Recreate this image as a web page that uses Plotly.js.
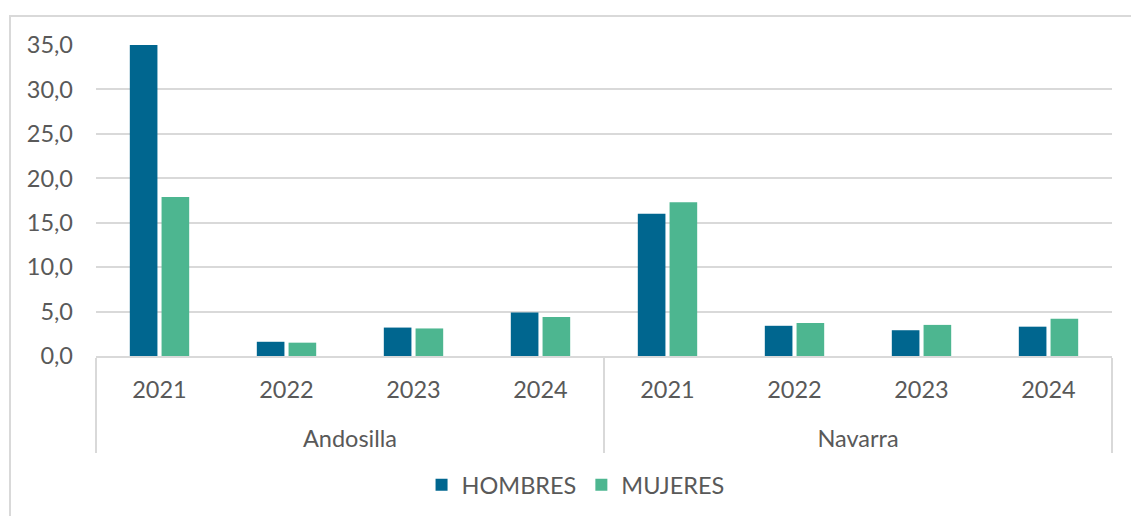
<!DOCTYPE html>
<html>
<head>
<meta charset="utf-8">
<script src="https://cdn.plot.ly/plotly-3.0.1.min.js"></script>
<style>
html,body{margin:0;padding:0;overflow:hidden;background:#fff;width:1131px;height:516px;}
#frame{position:absolute;left:9px;top:15px;width:1300px;height:700px;border:2px solid #d9d9d9;box-sizing:border-box;}
#chart{position:absolute;left:0;top:0;width:1131px;height:516px;}
</style>
</head>
<body>
<div id="frame"></div>
<div id="chart"></div>
<script>
const regions = ["Andosilla","Andosilla","Andosilla","Andosilla","Navarra","Navarra","Navarra","Navarra"];
const years = ["2021","2022","2023","2024","2021","2022","2023","2024"];
const hombres = [35.1, 1.6, 3.2, 4.9, 16.0, 3.4, 2.9, 3.3];
const mujeres = [17.9, 1.5, 3.1, 4.4, 17.3, 3.7, 3.5, 4.2];
const yTicks = [0,5,10,15,20,25,30,35];

// leading line break only pushes the group label lower, like the reference
const regionLabels = regions.map(r => '<br>' + r);

const traces = [
  {type:'bar', name:'HOMBRES', x:[regionLabels, years], y:hombres, marker:{color:'#00668f'}},
  {type:'bar', name:'MUJERES', x:[regionLabels, years], y:mujeres, marker:{color:'#4db690'}}
];
const layout = {
  width:1131, height:516,
  margin:{l:96, r:19, t:45, b:160, autoexpand:false},
  paper_bgcolor:'rgba(0,0,0,0)', plot_bgcolor:'rgba(0,0,0,0)',
  font:{family:'Lato, "Open Sans", sans-serif', size:23.5, color:'#595959'},
  separators:',.',
  barmode:'group', bargap:0.5, bargroupgap:0.13,
  showlegend:true,
  legend:{orientation:'h', x:0.472, xanchor:'center', y:-0.415, yanchor:'middle', font:{size:23.5, color:'#595959'}, itemwidth:30},
  xaxis:{type:'multicategory', automargin:false, showline:true, linecolor:'#d9d9d9', linewidth:2, ticks:'', ticklabelstandoff:12, showdividers:true, dividercolor:'#d9d9d9', dividerwidth:2, tickfont:{size:23.5, color:'#595959'}},
  yaxis:{range:[0,35], automargin:false, tickvals:yTicks, tickformat:'.1f', gridcolor:'#d9d9d9', gridwidth:2, zeroline:false, showline:false, ticks:'', ticklabelstandoff:22, tickfont:{size:23.5, color:'#595959'}}
};
Plotly.newPlot('chart', traces, layout, {displayModeBar:false, staticPlot:true});
</script>
</body>
</html>
